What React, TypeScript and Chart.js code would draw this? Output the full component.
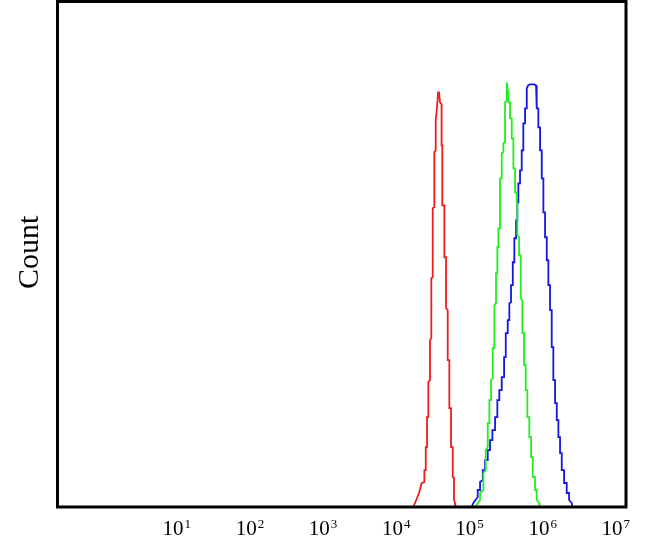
import React, { useEffect, useRef } from "react";
import { Chart, registerables } from "chart.js";

Chart.register(...registerables);

// x values are log10(fluorescence intensity), y values are event counts
const redX = [4.233, 4.256, 4.311, 4.348, 4.384, 4.384, 4.403, 4.403, 4.420, 4.420, 4.438, 4.438, 4.461, 4.461, 4.479, 4.479, 4.498, 4.498, 4.520, 4.520, 4.539, 4.539, 4.553, 4.564, 4.571, 4.584, 4.598, 4.619, 4.619, 4.629, 4.629, 4.657, 4.657, 4.680, 4.680, 4.703, 4.703, 4.725, 4.725, 4.748, 4.748, 4.772, 4.772, 4.789, 4.789, 4.803, 4.807];
const redY = [0, 4, 14, 24, 25, 37, 37, 60, 60, 90, 90, 125, 127, 167, 169, 229, 230, 299, 300, 355, 357, 387, 397, 407, 415, 415, 405, 403, 362, 362, 302, 302, 250, 250, 199, 197, 147, 147, 99, 99, 60, 60, 30, 29, 7, 4, 0];

const greenX = [5.076, 5.145, 5.145, 5.190, 5.190, 5.223, 5.223, 5.250, 5.250, 5.272, 5.272, 5.295, 5.295, 5.318, 5.318, 5.340, 5.340, 5.363, 5.363, 5.381, 5.381, 5.395, 5.395, 5.418, 5.418, 5.441, 5.441, 5.463, 5.463, 5.486, 5.486, 5.507, 5.510, 5.520, 5.531, 5.531, 5.555, 5.555, 5.578, 5.578, 5.600, 5.600, 5.623, 5.623, 5.646, 5.646, 5.654, 5.654, 5.678, 5.678, 5.701, 5.701, 5.723, 5.723, 5.746, 5.746, 5.769, 5.769, 5.791, 5.791, 5.818, 5.818, 5.842, 5.842, 5.865, 5.865, 5.896, 5.896, 5.919, 5.919, 5.951, 5.958];
const greenY = [0, 7, 14, 17, 34, 37, 57, 60, 84, 84, 107, 107, 127, 129, 159, 159, 202, 204, 234, 234, 260, 260, 279, 279, 329, 329, 354, 355, 364, 365, 405, 407, 425, 419, 415, 405, 405, 389, 389, 369, 369, 339, 339, 315, 315, 305, 304, 272, 270, 252, 252, 209, 207, 174, 174, 142, 142, 117, 117, 90, 90, 70, 70, 50, 50, 30, 30, 17, 17, 7, 4, 0];

const blueX = [5.031, 5.053, 5.113, 5.113, 5.145, 5.145, 5.182, 5.182, 5.213, 5.213, 5.250, 5.250, 5.281, 5.281, 5.313, 5.313, 5.350, 5.350, 5.381, 5.381, 5.408, 5.408, 5.441, 5.441, 5.473, 5.473, 5.496, 5.496, 5.523, 5.523, 5.545, 5.545, 5.568, 5.568, 5.592, 5.592, 5.613, 5.613, 5.637, 5.637, 5.654, 5.654, 5.668, 5.668, 5.691, 5.691, 5.714, 5.714, 5.736, 5.736, 5.760, 5.760, 5.783, 5.783, 5.801, 5.828, 5.883, 5.910, 5.919, 5.919, 5.941, 5.941, 5.965, 5.965, 5.988, 5.988, 6.010, 6.010, 6.033, 6.033, 6.056, 6.056, 6.078, 6.078, 6.101, 6.101, 6.124, 6.124, 6.146, 6.146, 6.170, 6.170, 6.193, 6.193, 6.215, 6.215, 6.238, 6.238, 6.261, 6.261, 6.293, 6.293, 6.329, 6.329, 6.361, 6.361, 6.398, 6.402];
const blueY = [0, 4, 10, 17, 17, 25, 27, 37, 37, 47, 47, 57, 57, 67, 67, 77, 77, 90, 90, 107, 107, 117, 117, 130, 130, 150, 150, 174, 174, 187, 187, 204, 205, 222, 222, 245, 245, 269, 269, 287, 287, 305, 305, 324, 324, 337, 337, 357, 357, 384, 384, 399, 399, 419, 422, 423, 423, 422, 419, 399, 399, 380, 380, 357, 357, 329, 329, 295, 295, 270, 270, 247, 247, 222, 222, 197, 197, 160, 160, 127, 127, 104, 104, 87, 87, 70, 70, 54, 54, 37, 37, 24, 24, 14, 14, 7, 4, 0];

const tickExponents = [1, 2, 3, 4, 5, 6, 7];
const tickBase = "10";
const yTitle = "Count";

const xMin = -0.629;
const xMax = 7.139;
const yMax = 506;

const toPoints = (xs: number[], ys: number[]) => xs.map((x, i) => ({ x, y: ys[i] }));

const decorPlugin = {
  id: "decor",
  afterDatasetsDraw(chart: any) {
    const { ctx, chartArea } = chart;
    const xs = chart.scales.x;
    ctx.save();
    // frame
    ctx.strokeStyle = "#000";
    ctx.lineWidth = 3;
    ctx.strokeRect(chartArea.left, chartArea.top, chartArea.right - chartArea.left, chartArea.bottom - chartArea.top);
    // tick labels 10^n
    ctx.fillStyle = "#000";
    ctx.textBaseline = "alphabetic";
    ctx.textAlign = "left";
    const baseFont = "21px 'Liberation Serif', serif";
    const expFont = "13px 'Liberation Serif', serif";
    const baseY = chartArea.bottom + 28;
    tickExponents.forEach((e) => {
      const cx = xs.getPixelForValue(e);
      ctx.font = baseFont;
      const wb = ctx.measureText(tickBase).width;
      ctx.font = expFont;
      const we = ctx.measureText(String(e)).width;
      const start = cx - (wb + we + 1) / 2;
      ctx.font = baseFont;
      ctx.fillText(tickBase, start, baseY);
      ctx.font = expFont;
      ctx.fillText(String(e), start + wb + 1, baseY - 7);
    });
    // y title
    ctx.font = "30px 'Liberation Serif', serif";
    ctx.textAlign = "center";
    ctx.translate(38.3, (chartArea.top + chartArea.bottom) / 2 - 2);
    ctx.rotate(-Math.PI / 2);
    ctx.fillText(yTitle, 0, 0);
    ctx.restore();
  },
};

export default function App() {
  const ref = useRef<HTMLCanvasElement | null>(null);
  useEffect(() => {
    document.body.style.margin = "0";
    const canvas = ref.current!;
    const mk = (label: string, xs: number[], ys: number[], color: string) => ({
      label,
      data: toPoints(xs, ys),
      showLine: true,
      borderColor: color,
      borderWidth: 1.8,
      pointRadius: 0,
      tension: 0,
      fill: false,
    });
    const chart = new Chart(canvas, {
      type: "scatter",
      data: {
        datasets: [
          mk("Isotype", redX, redY, "#f01c1c"),
          mk("Sample 1", greenX, greenY, "#22ee22"),
          mk("Sample 2", blueX, blueY, "#1515e6"),
        ],
      },
      options: {
        responsive: false,
        animation: false,
        events: [],
        layout: { padding: { left: 57.5, right: 26, top: 1.5, bottom: 45 } },
        plugins: { legend: { display: false }, tooltip: { enabled: false }, title: { display: false } },
        scales: {
          x: { type: "linear", display: false, min: xMin, max: xMax },
          y: { type: "linear", display: false, min: 0, max: yMax },
        },
      },
      plugins: [decorPlugin],
    });
    return () => chart.destroy();
  }, []);
  return <canvas ref={ref} width={652} height={552} style={{ display: "block" }} />;
}
